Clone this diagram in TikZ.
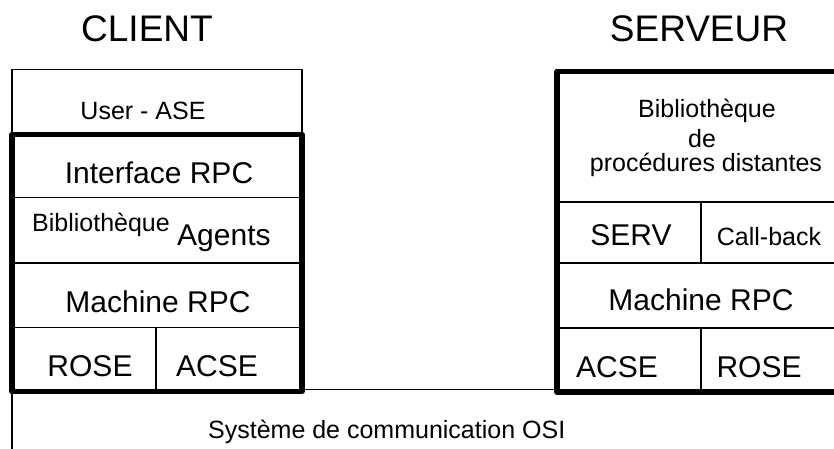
\documentclass[tikz,border=0pt]{standalone}
\usepackage{fontspec}
\setmainfont{Liberation Sans}
\begin{document}
\begin{tikzpicture}[x=1pt,y=-1pt,
  thinline/.style={line width=1.3pt, line join=miter},
  thickbox/.style={line width=5.5pt, line join=round},
  lbl/.style={anchor=base, inner sep=0pt, font=\fontsize{30}{36}\selectfont},
  sml/.style={anchor=base, inner sep=0pt, font=\fontsize{25}{30}\selectfont},
  hdr/.style={anchor=base, inner sep=0pt, font=\fontsize{37}{44}\selectfont}]
\useasboundingbox (0,0) rectangle (834,449);
\clip (0,0) rectangle (834,449);
% coordinates
\coordinate (osiL) at (12,391.5);
\coordinate (osiB) at (12,449);
\coordinate (hA) at (302,389.3);
\coordinate (hB) at (557,389.3);
% headers
\node[hdr] (client) at (147,42) {CLIENT};
\node[hdr] (serveur) at (699,42) {SERVEUR};
% client
\draw[thinline] (12,134.5) -- (12,69.5) -- (302,69.5) -- (302,134.5);
\draw[thinline] (osiL) -- (osiB);
\draw[thinline] (hA) -- (hB);
\draw[thinline] (12,197.5) -- (302,197.5);
\draw[thinline] (12,263) -- (302,263);
\draw[thinline] (12,327.5) -- (302,327.5);
\draw[thinline] (156,327.5) -- (156,391.5);
\draw[thickbox] (12,134.5) rectangle (302,391.5);
\node[sml] (user) at (143,120) {User - ASE};
\node[lbl] (iface) at (159,183) {Interface RPC};
\node[sml,anchor=base west] (biblc) at (32,231.7) {Bibliothèque};
\node[lbl,anchor=base west] (agents) at (177,245) {Agents};
\node[lbl] (machc) at (158,312) {Machine RPC};
\node[lbl] (rosec) at (90,376) {ROSE};
\node[lbl] (acsec) at (217,376) {ACSE};
% serveur
\draw[thinline] (557,202) -- (840,202);
\draw[thinline] (557,263) -- (840,263);
\draw[thinline] (557,328) -- (840,328);
\draw[thinline] (701,202) -- (701,263);
\draw[thinline] (701,328) -- (701,392);
\draw[thickbox] (557,71.5) rectangle (845,392);
\node[sml] (bibls1) at (707,118) {Bibliothèque};
\node[sml] (bibls2) at (702,148) {de};
\node[sml] (bibls3) at (706,171.7) {procédures distantes};
\node[lbl] (serv) at (631,245) {SERV};
\node[sml] (callback) at (769,245) {Call-back};
\node[lbl] (machs) at (701,310) {Machine RPC};
\node[lbl] (acses) at (617,377) {ACSE};
\node[lbl] (roses) at (759,377) {ROSE};
% OSI
\node[sml] (osi) at (386.7,438) {Système de communication OSI};
\end{tikzpicture}
\end{document}
